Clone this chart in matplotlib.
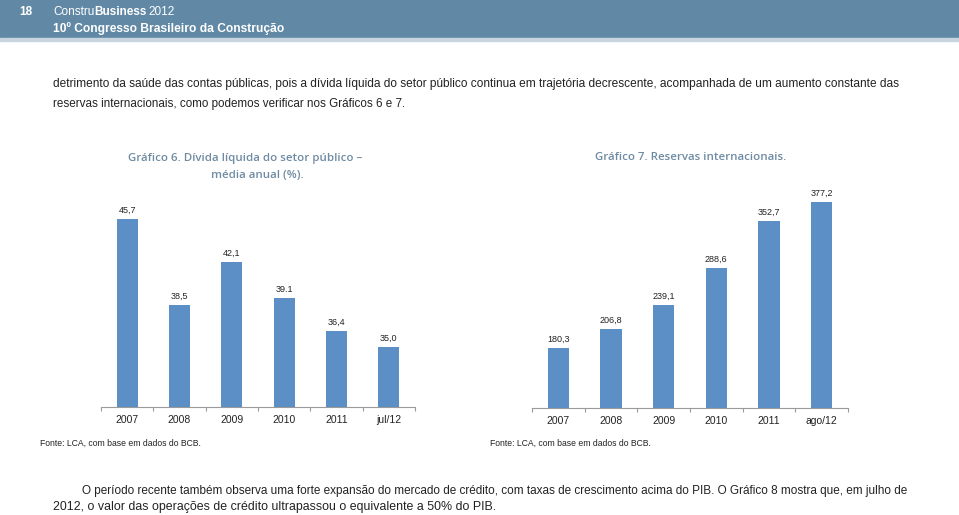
import matplotlib
matplotlib.use('Agg')
import matplotlib.pyplot as plt
from matplotlib.patches import Rectangle

# data
anos_6 = ['2007', '2008', '2009', '2010', '2011', 'jul/12']
divida = [45.7, 38.5, 42.1, 39.1, 36.4, 35.0]
rot_divida = ['45,7', '38,5', '42,1', '39.1', '36,4', '35,0']

anos_7 = ['2007', '2008', '2009', '2010', '2011', 'ago/12']
reservas = [180.3, 206.8, 239.1, 288.6, 352.7, 377.2]
rot_reservas = ['180,3', '206,8', '239,1', '288,6', '352,7', '377,2']

BAR = '#5b8fc6'
HEAD = '#6189a6'
TITLE = '#6e8ba3'
W, H = 959, 515

fig = plt.figure(figsize=(9.59, 5.15), dpi=100)
renderer = fig.canvas.get_renderer()


def put(x, y, s, width=None, **kw):
    # place text at pixel coords; shrink/grow font so it spans `width` px
    t = fig.text(x / W, 1 - y / H, s, va='center', **kw)
    if width:
        w = t.get_window_extent(renderer).width
        t.set_fontsize(t.get_fontsize() * width / w)
    return t


def right_of(t, gap=0):
    return t.get_window_extent(renderer).x1 + gap


# header band
fig.patches.append(Rectangle((0, 1 - 38 / H), 1, 38 / H, transform=fig.transFigure,
                             color=HEAD, zorder=0))
fig.patches.append(Rectangle((0, 1 - 41 / H), 1, 3 / H, transform=fig.transFigure,
                             color='#c9d5de', zorder=0))
put(19, 12, '18', color='white', fontsize=8.5, weight='bold', family='Liberation Sans')

# "ConstruBusiness 2012" in three pieces, sized so the line spans ~122 px
hsize = 10.5 * 122 / 151
hd = dict(color='white', fontsize=hsize, family='Liberation Sans')
t1 = put(53, 12, 'Constru', **hd)
t2 = put(right_of(t1), 12, 'Business', weight='bold', **hd)
put(right_of(t2, 2), 12, '2012', **hd)
put(53, 29, '10º Congresso Brasileiro da Construção', width=232, weight='bold',
    color='white', fontsize=10.5, family='Liberation Sans')

# body text
body = dict(fontsize=9, family='Liberation Sans', color='#222222')
put(53, 84, 'detrimento da saúde das contas públicas, pois a dívida líquida do setor público continua '
    'em trajetória decrescente, acompanhada de um aumento constante das', width=854, **body)
put(53, 104, 'reservas internacionais, como podemos verificar nos Gráficos 6 e 7.', width=353, **body)
put(82, 491, 'O período recente também observa uma forte expansão do mercado de crédito, com taxas de '
    'crescimento acima do PIB. O Gráfico 8 mostra que, em julho de', width=825, **body)
put(53, 507, '2012, o valor das operações de crédito ultrapassou o equivalente a 50% do PIB.',
    width=441, **body)

# chart titles, all at one size
tt = dict(fontsize=10.5, family='Open Sans', color=TITLE, weight='semibold')
g6 = put(128, 158, 'Gráfico 6. Dívida líquida do setor público –', width=234, **tt)
tt['fontsize'] = g6.get_fontsize()
put(257, 176, 'média anual (%).', ha='center', **tt)
put(595, 158, 'Gráfico 7. Reservas internacionais.', **tt)

# footnotes
fn = dict(fontsize=6.5, family='Liberation Sans', color='#222222')
put(40, 443, 'Fonte: LCA, com base em dados do BCB.', width=160, **fn)
put(490, 443, 'Fonte: LCA, com base em dados do BCB.', width=160, **fn)


def bar_chart(rect, cats, vals, labels, ylim):
    ax = fig.add_axes(rect)
    x = range(len(cats))
    bars = ax.bar(x, vals, width=0.4, color=BAR)
    ax.set_ylim(*ylim)
    ax.set_xlim(-0.5, len(cats) - 0.5)
    for b, lab in zip(bars, labels):
        ax.annotate(lab, (b.get_x() + b.get_width() / 2, b.get_height()),
                    xytext=(0, 3), textcoords='offset points', ha='center', va='bottom',
                    fontsize=6.5, family='Liberation Sans', color='#222222')
    for s in ['top', 'right', 'left']:
        ax.spines[s].set_visible(False)
    ax.spines['bottom'].set_color('#9a9a9a')
    ax.spines['bottom'].set_linewidth(0.8)
    ax.set_yticks([])
    ax.set_xticks([i - 0.5 for i in range(len(cats) + 1)], minor=True)
    ax.set_xticks(list(x))
    ax.set_xticklabels(cats, fontsize=7.5, family='Liberation Sans', color='#222222')
    ax.tick_params(axis='x', which='major', length=0, pad=6)
    ax.tick_params(axis='x', which='minor', length=3, color='#9a9a9a', width=0.8)
    return ax


bar_chart([101 / W, 108 / H, 314 / W, 239 / H], anos_6, divida, rot_divida, (30, 50))
bar_chart([532 / W, 107 / H, 316 / W, 222.5 / H], anos_7, reservas, rot_reservas, (100, 400))

fig.savefig('out.png', dpi=100)
